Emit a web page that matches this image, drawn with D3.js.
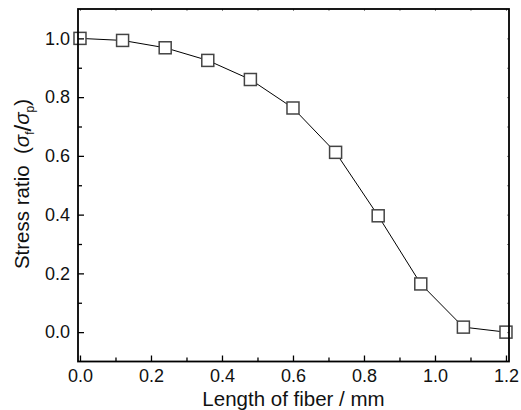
<!DOCTYPE html>
<html>
<head>
<meta charset="utf-8">
<script src="https://cdn.jsdelivr.net/npm/d3@7"></script>
<style>
  body { margin: 0; background: #fff; }
  svg { display: block; font-family: "Liberation Sans", Arial, sans-serif; }
</style>
</head>
<body>
<script>
// chart size, same as the window
let width = 521, height = 410

// data
let lengths = [0, 0.12, 0.24, 0.36, 0.48, 0.60, 0.72, 0.84, 0.96, 1.08, 1.20]
let ratios = [1.0, 0.993, 0.968, 0.925, 0.86, 0.763, 0.612, 0.396, 0.164, 0.017, 0.0]

// tick values
let xMajor = [0, 0.2, 0.4, 0.6, 0.8, 1.0, 1.2]
let xMinor = [0.1, 0.3, 0.5, 0.7, 0.9, 1.1]
let yMajor = [0, 0.2, 0.4, 0.6, 0.8, 1.0]
let yMinor = [0.1, 0.3, 0.5, 0.7, 0.9]

let points = lengths.map((d, i) => ({ x: d, y: ratios[i] }))

// plot box (note: "top" is taken by window.top)
let plotLeft = 78, plotRight = 509, plotTop = 9, plotBottom = 361.5

let x = d3.scaleLinear().domain([-0.0056, 1.2085]).range([plotLeft, plotRight])
let y = d3.scaleLinear().domain([-0.1, 1.1]).range([plotBottom, plotTop])

let svg = d3.select('body')
    .append('svg')
    .attr('width', width)
    .attr('height', height)

// line between points
let line = d3.line().x(d => x(d.x)).y(d => y(d.y))

svg.append('path')
    .datum(points)
    .attr('fill', 'none')
    .attr('stroke', '#000')
    .attr('stroke-width', 1)
    .attr('d', line)

// square markers
let s = 12
svg.append('g')
    .selectAll('rect')
    .data(points)
    .join('rect')
    .attr('x', d => x(d.x) - s / 2)
    .attr('y', d => y(d.y) - s / 2)
    .attr('width', s)
    .attr('height', s)
    .attr('fill', '#fff')
    .attr('stroke', '#444')
    .attr('stroke-width', 1.5)

// bottom axis, ticks pointing inward
let xAxis = svg.append('g')
    .attr('transform', `translate(0,${plotBottom})`)
    .call(d3.axisBottom(x).tickValues(xMajor).tickSize(-6).tickPadding(8).tickFormat(d3.format('.1f')))
xAxis.select('.domain').remove()
xAxis.selectAll('text').attr('font-size', 18).attr('fill', '#111')
xAxis.selectAll('line').attr('stroke-width', 1.3)
xAxis.attr('font-family', null)

let xAxisMinor = svg.append('g')
    .attr('transform', `translate(0,${plotBottom})`)
    .call(d3.axisBottom(x).tickValues(xMinor).tickSize(-4).tickFormat(''))
xAxisMinor.select('.domain').remove()
xAxisMinor.selectAll('line').attr('stroke-width', 1.3)

// left axis
let yAxis = svg.append('g')
    .attr('transform', `translate(${plotLeft},0)`)
    .call(d3.axisLeft(y).tickValues(yMajor).tickSize(-6).tickPadding(8).tickFormat(d3.format('.1f')))
yAxis.select('.domain').remove()
yAxis.selectAll('text').attr('font-size', 18).attr('fill', '#111')
yAxis.selectAll('line').attr('stroke-width', 1.3)
yAxis.attr('font-family', null)

let yAxisMinor = svg.append('g')
    .attr('transform', `translate(${plotLeft},0)`)
    .call(d3.axisLeft(y).tickValues(yMinor).tickSize(-4).tickFormat(''))
yAxisMinor.select('.domain').remove()
yAxisMinor.selectAll('line').attr('stroke-width', 1.3)

// tiny ticks on top and right, barely visible in the original
let topTicks = svg.append('g')
    .attr('transform', `translate(0,${plotTop})`)
    .call(d3.axisTop(x).tickValues(xMajor.concat(xMinor)).tickSize(-2).tickFormat(''))
topTicks.select('.domain').remove()
topTicks.selectAll('line').attr('stroke', '#888')

let rightTicks = svg.append('g')
    .attr('transform', `translate(${plotRight},0)`)
    .call(d3.axisRight(y).tickValues(yMajor.concat(yMinor)).tickSize(-2).tickFormat(''))
rightTicks.select('.domain').remove()
rightTicks.selectAll('line').attr('stroke', '#888')

// frame on top of the markers
svg.append('rect')
    .attr('x', plotLeft)
    .attr('y', plotTop)
    .attr('width', plotRight - plotLeft)
    .attr('height', plotBottom - plotTop)
    .attr('fill', 'none')
    .attr('stroke', '#000')
    .attr('stroke-width', 1.8)

// x title
svg.append('text')
    .attr('x', (plotLeft + plotRight) / 2)
    .attr('y', 406)
    .attr('text-anchor', 'middle')
    .attr('font-size', 20.5)
    .attr('fill', '#111')
    .text('Length of fiber / mm')

// y title with sigma subscripts
let yt = svg.append('text')
    .attr('transform', `translate(29,184) rotate(-90)`)
    .attr('text-anchor', 'middle')
    .attr('font-size', 20.5)
    .attr('fill', '#111')
yt.append('tspan').text('Stress ratio\u00a0\u00a0(')
yt.append('tspan').attr('font-style', 'italic').text('\u03c3')
yt.append('tspan').attr('font-size', 12).attr('dy', 5).text('f')
yt.append('tspan').attr('dy', -3).attr('font-size', 24).attr('font-weight', 300).text('/')
yt.append('tspan').attr('dy', -2).attr('font-style', 'italic').text('\u03c3')
yt.append('tspan').attr('font-size', 12).attr('dy', 5).text('p')
yt.append('tspan').attr('dy', -5).text(')')
</script>
</body>
</html>
